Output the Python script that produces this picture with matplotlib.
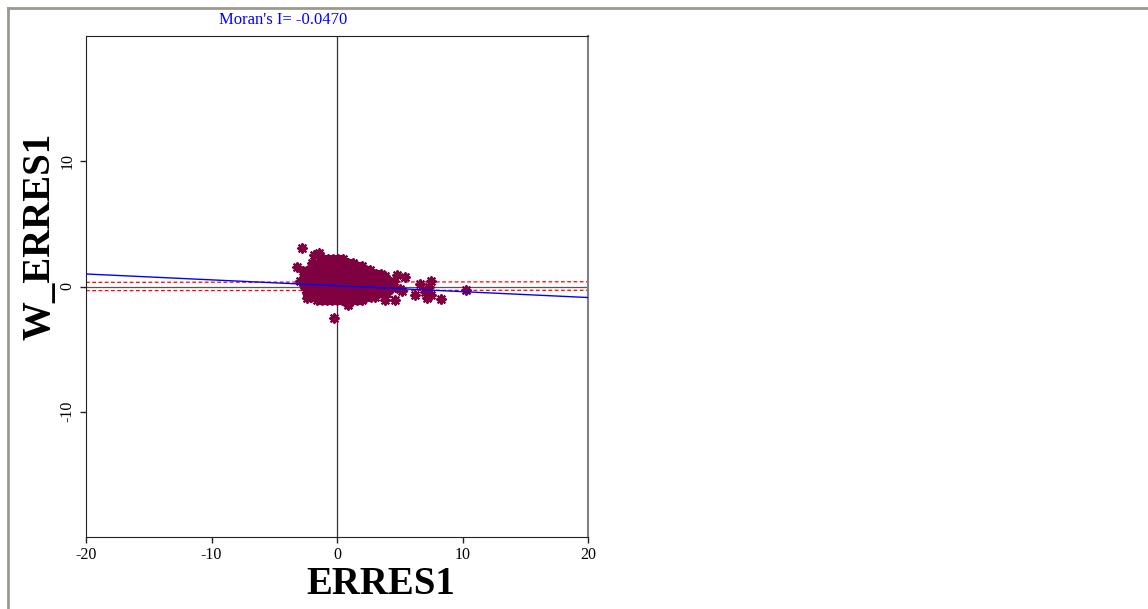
import numpy as np
import matplotlib.pyplot as plt
from matplotlib.lines import Line2D

plt.rcParams['axes.unicode_minus'] = False

# Moran scatter of ERRES1 vs its spatial lag
moran_i = -0.0470
intercept = 0.06
band_x = [-20, 20]
band_upper = [0.33, 0.38]
band_lower = [-0.33, -0.30]

# dense core, row by row
core_x = [
    -1.1, -0.7, -0.3, 0.1, 0.5,
    -1.5, -1.1, -0.7, -0.3, 0.1, 0.5, 0.9, 1.3,
    -2.0, -1.6, -1.2, -0.8, -0.4, 0.0, 0.4, 0.8, 1.2, 1.6, 2.0,
    -2.2, -1.8, -1.4, -1.0, -0.6, -0.2, 0.2, 0.6, 1.0, 1.4, 1.8, 2.2, 2.6,
    -2.5, -2.1, -1.7, -1.3, -0.9, -0.5, -0.1, 0.3, 0.7, 1.1, 1.5, 1.9, 2.3, 2.7, 3.1, 3.5,
    -2.6, -2.2, -1.8, -1.4, -1.0, -0.6, -0.2, 0.2, 0.6, 1.0, 1.4, 1.8, 2.2, 2.6, 3.0, 3.4, 3.8,
    -2.6, -2.2, -1.8, -1.4, -1.0, -0.6, -0.2, 0.2, 0.6, 1.0, 1.4, 1.8, 2.2, 2.6, 3.0, 3.4, 3.8, 4.1,
    -2.6, -2.2, -1.8, -1.4, -1.0, -0.6, -0.2, 0.2, 0.6, 1.0, 1.4, 1.8, 2.2, 2.6, 3.0, 3.4, 3.8, 4.2,
    -2.5, -2.1, -1.7, -1.3, -0.9, -0.5, -0.1, 0.3, 0.7, 1.1, 1.5, 1.9, 2.3, 2.7, 3.1, 3.5, 3.9,
    -2.4, -2.0, -1.6, -1.2, -0.8, -0.4, 0.0, 0.4, 0.8, 1.2, 1.6, 2.0, 2.4, 2.8, 3.2, 3.6,
    -2.1, -1.7, -1.3, -0.9, -0.5, -0.1, 0.3, 0.7, 1.1, 1.5, 1.9, 2.3, 2.7, 3.0,
    -1.6, -1.2, -0.8, -0.4, 0.0, 0.4, 0.8, 1.2, 1.6, 2.0,
]
core_y = (
    [2.2] * 5 + [1.9] * 8 + [1.6] * 11 + [1.3] * 13 + [1.0] * 16 + [0.7] * 17
    + [0.4] * 18 + [0.1] * 18 + [-0.2] * 17 + [-0.5] * 16 + [-0.8] * 14 + [-1.1] * 10
)

# scattered points around the core
out_x = [-2.81, -1.83, -1.41, -2.02, -3.21, -2.95, 0.90, -0.24, 0.90,
         3.82, 4.80, 5.42, 4.54, 6.61, 7.46, 7.36, 5.15, 6.20, 7.00, 7.49,
         7.15, 8.29, 10.28, 3.82, 4.62, 3.96, 4.36, 5.02, 3.70, -2.7, -2.4]
out_y = [3.09, 2.51, 2.69, 1.89, 1.57, 0.43, -1.31, -2.50, -1.44,
         0.83, 0.91, 0.77, 0.43, 0.16, 0.43, -0.03, -0.37, -0.64, -0.43, -0.64,
         -0.90, -0.99, -0.24, -1.04, -1.04, -0.51, -0.11, -0.19, 0.03, 1.2, -0.9]

xs = np.array(core_x + out_x)
ys = np.array(core_y + out_y)

serif = ['Liberation Serif', 'DejaVu Serif']
fig = plt.figure(figsize=(11.48, 6.09), dpi=100)
ax = fig.add_axes([86 / 1148, 72 / 609, 502 / 1148, 501 / 609])

ax.axvline(0, color='#333333', lw=0.9, zorder=1)
ax.axhline(0, color='#555555', lw=0.9, zorder=1)
ax.plot(band_x, band_upper, color='red', lw=0.9, ls=(0, (3, 2)), zorder=2)
ax.plot(band_x, band_lower, color='red', lw=0.9, ls=(0, (3, 2)), zorder=2)

ax.scatter(xs, ys, marker=(8, 2, 0), s=38, color='#7f0040', lw=1.6, zorder=3)
ax.scatter(xs, ys, marker='o', s=14, color='#7f0040', lw=0, zorder=3)

lx = np.array([-20, 20])
ax.plot(lx, intercept + moran_i * lx, color='blue', lw=1.0, zorder=4)

ax.set_xlim(-20, 20)
ax.set_ylim(-20, 20)
ax.set_xticks([-20, -10, 0, 10, 20])
ax.set_yticks([-10, 0, 10])
ax.tick_params(length=4, width=1, colors='#222222', labelcolor='black')
for lab in ax.get_xticklabels():
    lab.set_family(serif)
    lab.set_fontsize(11.5)
for lab in ax.get_yticklabels():
    lab.set_family(serif)
    lab.set_fontsize(11.5)
    lab.set_rotation(90)
    lab.set_va('center')
for s in ['left', 'bottom', 'top']:
    ax.spines[s].set_color('#222222')
ax.spines['right'].set_color('#808080')
ax.spines['right'].set_linewidth(1.5)

fig.text(283 / 1148, 1 - 20 / 609, "Moran's I= -0.0470", color='blue',
         family=serif, fontsize=12, ha='center', va='center')
fig.text(381 / 1148, 1 - 584 / 609, 'ERRES1', family=serif, fontweight='bold',
         fontsize=28, ha='center', va='center')
fig.text(40 / 1148, 1 - 236 / 609, 'W_ERRES1', family=serif, fontweight='bold',
         fontsize=28, ha='center', va='center', rotation=90)

# outer frame of the window
frame = '#9b9a8e'
fig.add_artist(Line2D([8 / 1148, 8 / 1148], [0, 1 - 8 / 609], color=frame, lw=2,
                      transform=fig.transFigure))
fig.add_artist(Line2D([8 / 1148, 1], [1 - 8 / 609, 1 - 8 / 609], color=frame, lw=2,
                      transform=fig.transFigure))

fig.savefig('out.png', dpi=100)
